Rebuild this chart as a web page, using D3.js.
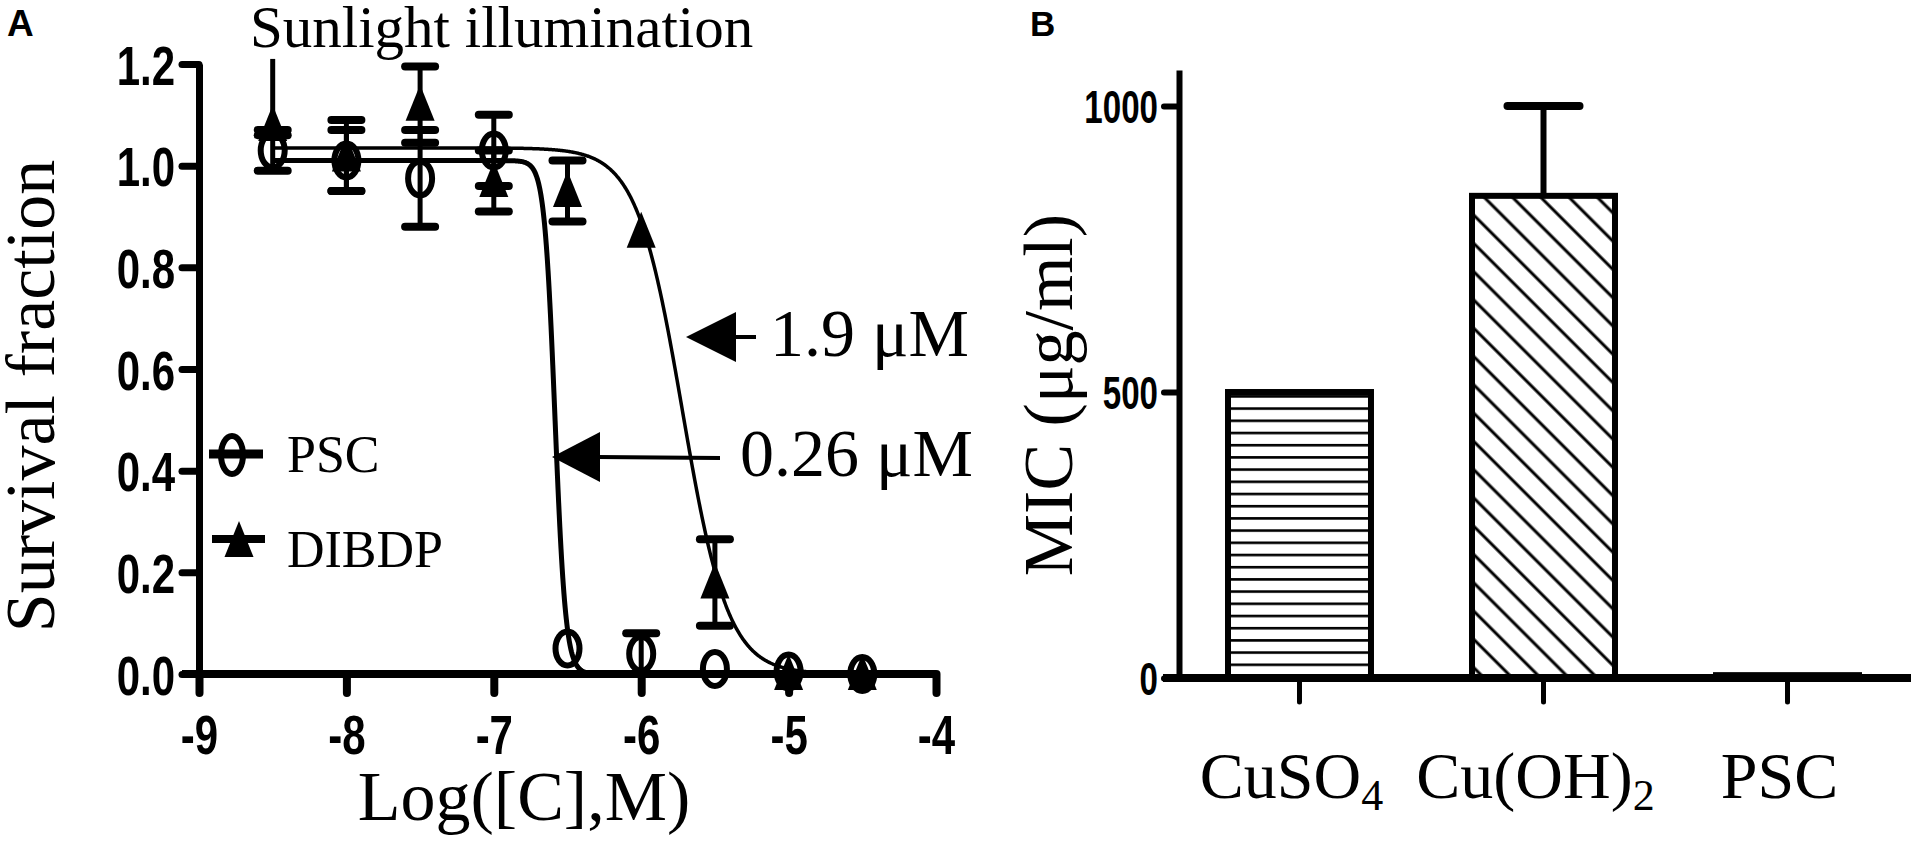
<!DOCTYPE html>
<html>
<head>
<meta charset="utf-8">
<script src="https://cdn.jsdelivr.net/npm/d3@7"></script>
<style>
  html, body { margin: 0; padding: 0; background: #fff; }
  svg { display: block; }
</style>
</head>
<body>
<svg id="chart" width="1917" height="842"></svg>
<script>
// ---------- Panel A data ----------
const logConc = [-8.5, -8, -7.5, -7, -6.5, -6, -5.5, -5, -4.5];
const pscMean = [1.03, 1.01, 0.975, 1.03, 0.05, 0.04, 0.01, 0.005, 0.0];
const pscErr = [0.04, 0.06, 0.095, 0.07, 0.0, 0.04, 0.0, 0.0, 0.0];
const dibdpMean = [1.08, 1.02, 1.12, 0.97, 0.95, 0.87, 0.18, 0.0, 0.0];
const dibdpErrPlus = [0.13, 0.07, 0.075, 0.06, 0.06, 0.0, 0.085, 0.0, 0.0];
const dibdpErrMinus = [0.02, 0.07, 0.075, 0.06, 0.06, 0.0, 0.085, 0.0, 0.0];
// fitted dose-response curves (top, logIC50, hill slope)
const fitNames = ["PSC", "DIBDP"];
const fitTop = [1.01, 1.035];
const fitLogIC50 = [-6.585, -5.72];
const fitHill = [12, 2.8];
const xTicksA = [-9, -8, -7, -6, -5, -4];
const yTicksA = [0, 0.2, 0.4, 0.6, 0.8, 1.0, 1.2];
const annLabels = ["1.9 μM", "0.26 μM"];

// ---------- Panel B data ----------
const compounds = ["CuSO4", "Cu(OH)2", "PSC"];
const micValues = [500, 843, 5];
const micErr = [0, 157, 0];
const yTicksB = [0, 500, 1000];

const svg = d3.select("#chart");
const SERIF = "'Liberation Serif','Times New Roman',Times,serif";
const SANS = "'Liberation Sans',Arial,Helvetica,sans-serif";

// patterns
const defs = svg.append("defs");
const ph = defs.append("pattern").attr("id", "hatchH").attr("patternUnits", "userSpaceOnUse")
  .attr("width", 12).attr("height", 12.2);
ph.append("rect").attr("width", 12).attr("height", 12.2).attr("fill", "#fff");
ph.append("line").attr("x1", 0).attr("x2", 12).attr("y1", 6).attr("y2", 6)
  .attr("stroke", "#000").attr("stroke-width", 2.6);
const pd = defs.append("pattern").attr("id", "hatchD").attr("patternUnits", "userSpaceOnUse")
  .attr("width", 20).attr("height", 20).attr("patternTransform", "rotate(-45)");
pd.append("rect").attr("width", 20).attr("height", 20).attr("fill", "#fff");
pd.append("line").attr("x1", 10).attr("x2", 10).attr("y1", 0).attr("y2", 20)
  .attr("stroke", "#000").attr("stroke-width", 3);

// ================= PANEL A =================
const xA = d3.scaleLinear().domain([-9, -4]).range([199, 936]);
const yA = d3.scaleLinear().domain([0, 1.2]).range([674, 64]);
const gA = svg.append("g");

function styleAxis(g, w) {
  g.select(".domain").attr("stroke", "#000").attr("stroke-width", w);
  g.selectAll(".tick line").attr("stroke", "#000").attr("stroke-width", w).attr("stroke-linecap", "round");
}

// y axis
const yAxisA = gA.append("g").attr("transform", "translate(199,0)")
  .call(d3.axisLeft(yA).tickValues(yTicksA).tickFormat(d3.format(".1f")).tickSize(17).tickSizeOuter(0));
styleAxis(yAxisA, 7);
yAxisA.selectAll(".tick text")
  .attr("font-family", SANS).attr("font-weight", "bold").attr("font-size", 56).attr("fill", "#000")
  .attr("x", -24 / 0.75).attr("dy", "0.36em").attr("transform", "scale(0.75,1)");

// x axis
const xAxisA = gA.append("g").attr("transform", "translate(0,674)")
  .call(d3.axisBottom(xA).tickValues(xTicksA).tickFormat(d => String(d)).tickSize(19).tickSizeOuter(0));
styleAxis(xAxisA, 8);
xAxisA.selectAll(".tick text")
  .attr("font-family", SANS).attr("font-weight", "bold").attr("font-size", 56).attr("fill", "#000")
  .attr("y", 80).attr("dy", 0).attr("transform", "scale(0.75,1)");
xAxisA.select(".domain").attr("d", "M182,0H936");

// fitted curves
const curveX = d3.range(-8.5, -4.5 + 1e-9, 0.004);
const curveW = [5, 3.5];
fitNames.forEach((n, i) => {
  const pts = curveX.map(x => [x, fitTop[i] / (1 + Math.pow(10, (x - fitLogIC50[i]) * fitHill[i]))]);
  gA.append("path").datum(pts)
    .attr("d", d3.line().x(d => xA(d[0])).y(d => yA(d[1])))
    .attr("fill", "none").attr("stroke", "#000").attr("stroke-width", curveW[i]);
});

// error bars
function errBar(x, lo, hi) {
  const g = gA.append("g");
  g.append("line").attr("x1", xA(x)).attr("x2", xA(x)).attr("y1", yA(lo)).attr("y2", yA(Math.min(hi, 1.21)))
    .attr("stroke", "#000").attr("stroke-width", 5);
  [lo, hi].forEach(v => {
    if (v <= 1.2 && v >= 0) {
      g.append("line").attr("x1", xA(x) - 15).attr("x2", xA(x) + 15).attr("y1", yA(v)).attr("y2", yA(v))
        .attr("stroke", "#000").attr("stroke-width", 8).attr("stroke-linecap", "round");
    }
  });
}
logConc.forEach((x, i) => {
  if (pscErr[i] > 0) errBar(x, pscMean[i] - pscErr[i], pscMean[i] + pscErr[i]);
  if (dibdpErrPlus[i] > 0 || dibdpErrMinus[i] > 0)
    errBar(x, dibdpMean[i] - dibdpErrMinus[i], dibdpMean[i] + dibdpErrPlus[i]);
});

// markers
const triPath = (cx, cy) => `M${cx},${cy - 20}L${cx + 14.5},${cy + 16}L${cx - 14.5},${cy + 16}Z`;
gA.selectAll(".psc").data(logConc).join("ellipse")
  .attr("cx", d => xA(d)).attr("cy", (d, i) => yA(pscMean[i]))
  .attr("rx", 12).attr("ry", 17).attr("fill", "none").attr("stroke", "#000").attr("stroke-width", 6);
gA.selectAll(".dib").data(logConc).join("path")
  .attr("d", (d, i) => triPath(xA(d), yA(dibdpMean[i]))).attr("fill", "#000");

// legend
const legY = [454, 539];
gA.append("line").attr("x1", 209).attr("x2", 263).attr("y1", legY[0]).attr("y2", legY[0])
  .attr("stroke", "#000").attr("stroke-width", 9);
gA.append("ellipse").attr("cx", 232).attr("cy", 455).attr("rx", 11).attr("ry", 19)
  .attr("fill", "none").attr("stroke", "#000").attr("stroke-width", 6);
gA.append("line").attr("x1", 212).attr("x2", 265).attr("y1", legY[1]).attr("y2", legY[1])
  .attr("stroke", "#000").attr("stroke-width", 8);
gA.append("path").attr("d", triPath(239, 541)).attr("fill", "#000");
gA.append("text").attr("x", 287).attr("y", 472).text("PSC")
  .attr("font-family", SERIF).attr("font-size", 52);
gA.append("text").attr("x", 287).attr("y", 567).text("DIBDP")
  .attr("font-family", SERIF).attr("font-size", 52);

// annotations
const arrows = [
  { tip: [686, 337], base: 736, end: 756, tx: 770, ty: 356 },
  { tip: [552, 457], base: 600, end: 720, tx: 740, ty: 476 }
];
arrows.forEach((a, i) => {
  gA.append("line").attr("x1", a.base - 2).attr("x2", a.end).attr("y1", a.tip[1]).attr("y2", a.tip[1] + (i ? 1 : 0))
    .attr("stroke", "#000").attr("stroke-width", 4);
  gA.append("path").attr("d", `M${a.tip[0]},${a.tip[1]}L${a.base},${a.tip[1] - 25}L${a.base},${a.tip[1] + 25}Z`)
    .attr("fill", "#000");
  gA.append("text").attr("x", a.tx).attr("y", a.ty).text(annLabels[i])
    .attr("font-family", SERIF).attr("font-size", 68);
});

// titles
gA.append("text").attr("x", 250).attr("y", 47).text("Sunlight illumination")
  .attr("font-family", SERIF).attr("font-size", 59);
gA.append("text").attr("transform", "translate(54,396) rotate(-90)").attr("text-anchor", "middle")
  .text("Survival fraction").attr("font-family", SERIF).attr("font-size", 70);
gA.append("text").attr("x", 524).attr("y", 820).attr("text-anchor", "middle")
  .text("Log([C],M)").attr("font-family", SERIF).attr("font-size", 70);
svg.append("text").attr("x", 7).attr("y", 36).text("A")
  .attr("font-family", SANS).attr("font-weight", "bold").attr("font-size", 37);

// ================= PANEL B =================
const xB = d3.scaleBand().domain(compounds).range([1228, 1859]).paddingInner(0.414).paddingOuter(0);
const yB = d3.scaleLinear().domain([0, 1063]).range([678, 70]);
const gB = svg.append("g");

// bars
const fills = ["url(#hatchH)", "url(#hatchD)", "#fff"];
gB.selectAll(".bar").data(compounds).join("rect")
  .attr("x", d => xB(d)).attr("width", xB.bandwidth())
  .attr("y", (d, i) => yB(micValues[i])).attr("height", (d, i) => yB(0) - yB(micValues[i]))
  .attr("fill", (d, i) => fills[i]).attr("stroke", "#000").attr("stroke-width", 6);

// error bars
compounds.forEach((c, i) => {
  if (micErr[i] > 0) {
    const cx = xB(c) + xB.bandwidth() / 2;
    gB.append("line").attr("x1", cx).attr("x2", cx).attr("y1", yB(micValues[i])).attr("y2", yB(micValues[i] + micErr[i]))
      .attr("stroke", "#000").attr("stroke-width", 6);
    gB.append("line").attr("x1", cx - 36).attr("x2", cx + 36)
      .attr("y1", yB(micValues[i] + micErr[i])).attr("y2", yB(micValues[i] + micErr[i]))
      .attr("stroke", "#000").attr("stroke-width", 8).attr("stroke-linecap", "round");
  }
});

// y axis
const yAxisB = gB.append("g").attr("transform", "translate(1179,0)")
  .call(d3.axisLeft(yB).tickValues(yTicksB).tickFormat(d3.format("d")).tickSize(15).tickSizeOuter(0));
styleAxis(yAxisB, 6);
yAxisB.selectAll(".tick text")
  .attr("font-family", SANS).attr("font-weight", "bold").attr("font-size", 46).attr("fill", "#000")
  .attr("x", -21 / 0.72).attr("dy", "0.36em").attr("transform", "scale(0.72,1)");

// x axis
const xAxisB = gB.append("g").attr("transform", "translate(0,678)")
  .call(d3.axisBottom(xB).tickSize(24).tickSizeOuter(0).tickFormat(""));
styleAxis(xAxisB, 8);
xAxisB.select(".domain").attr("d", "M1163,0H1911");
xAxisB.selectAll(".tick line").attr("stroke-width", 5);

// category labels with subscripts
const labParts = [["CuSO", "4"], ["Cu(OH)", "2"], ["PSC", ""]];
compounds.forEach((c, i) => {
  const t = gB.append("text").attr("x", xB(c) + xB.bandwidth() / 2 - 8).attr("y", 798)
    .attr("text-anchor", "middle").attr("font-family", SERIF).attr("font-size", 66);
  t.append("tspan").text(labParts[i][0]);
  if (labParts[i][1]) t.append("tspan").attr("font-size", 44).attr("dy", 12).text(labParts[i][1]);
});

gB.append("text").attr("transform", "translate(1072,395) rotate(-90)").attr("text-anchor", "middle")
  .text("MIC (μg/ml)").attr("font-family", SERIF).attr("font-size", 70);
svg.append("text").attr("x", 1030).attr("y", 36).text("B")
  .attr("font-family", SANS).attr("font-weight", "bold").attr("font-size", 35);
</script>
</body>
</html>
